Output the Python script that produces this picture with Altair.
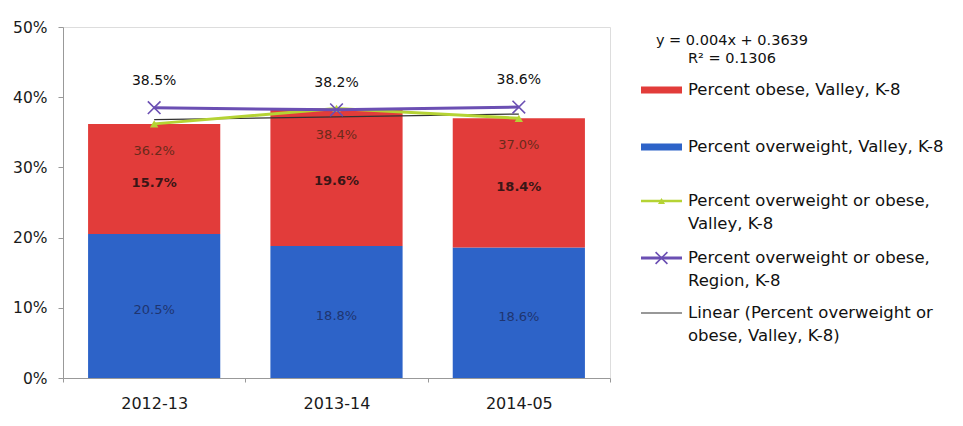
import altair as alt
import pandas as pd

years = ["2012-13", "2013-14", "2014-05"]
overweight = [20.5, 18.8, 18.6]
obese = [15.7, 19.6, 18.4]
valley_total = [36.2, 38.4, 37.0]
region_total = [38.5, 38.2, 38.6]
trend = [36.8, 37.2, 37.6]  # y = 0.004x + 0.3639

FONT = "DejaVu Sans"
RED = "#e23c3a"
BLUE = "#2d63c8"
GREEN = "#b5d334"
PURPLE = "#6b4fb3"

df = pd.DataFrame({
    "year": years,
    "ow": overweight,
    "ob": obese,
    "valley": valley_total,
    "region": region_total,
    "trend": trend,
})
df["ow_lbl"] = [f"{v:.1f}%" for v in overweight]
df["ob_lbl"] = [f"{v:.1f}%" for v in obese]
df["valley_lbl"] = [f"{v:.1f}%" for v in valley_total]
df["region_lbl"] = [f"{v:.1f}%" for v in region_total]
df["zero"] = 0.0
df["ob_top"] = df["ow"] + df["ob"]
df["ow_mid"] = df["ow"] / 2
df["ob_mid"] = df["ow"] + df["ob"] / 2

xscale = alt.Scale(paddingInner=0, paddingOuter=0)
yscale = alt.Scale(domain=[0, 50])

X = alt.X("year:N", scale=xscale, sort=years, title=None,
          axis=alt.Axis(labelAngle=0, labelFontSize=16, labelColor="#1a1a1a",
                        labelFont=FONT, labelPadding=13, tickBand="extent",
                        domainColor="#999", tickColor="#999", tickSize=4))

base = alt.Chart(df)

yaxis = alt.Axis(values=[0, 10, 20, 30, 40, 50], labelExpr="datum.value + '%'",
                 grid=False, labelFontSize=15.5, labelFont=FONT, labelColor="#1a1a1a",
                 domainColor="#999", tickColor="#999", tickSize=5, labelPadding=11)

blue_bar = base.mark_bar(color=BLUE, width=alt.RelativeBandSize(0.725)).encode(
    x=X, y=alt.Y("zero:Q", scale=yscale, axis=yaxis, title=None), y2="ow:Q")
red_bar = base.mark_bar(color=RED, width=alt.RelativeBandSize(0.725)).encode(
    x=X, y=alt.Y("ow:Q", scale=yscale), y2="ob_top:Q")

trend_line = base.mark_line(color="#333", strokeWidth=1.2).encode(
    x=X, y=alt.Y("trend:Q", scale=yscale))
valley_line = base.mark_line(color=GREEN, strokeWidth=3).encode(
    x=X, y=alt.Y("valley:Q", scale=yscale))
valley_pts = base.mark_point(shape="triangle-up", filled=True, color=GREEN,
                             size=70, opacity=1).encode(
    x=X, y=alt.Y("valley:Q", scale=yscale))
region_line = base.mark_line(color=PURPLE, strokeWidth=3).encode(
    x=X, y=alt.Y("region:Q", scale=yscale))
region_pts = base.mark_point(shape="M-1,-1L1,1M1,-1L-1,1", filled=False,
                             color=PURPLE, size=160, strokeWidth=1.6,
                             opacity=1).encode(
    x=X, y=alt.Y("region:Q", scale=yscale))

region_txt = base.mark_text(font=FONT, fontSize=14, color="#111", dy=-27).encode(
    x=X, y=alt.Y("region:Q", scale=yscale), text="region_lbl:N")
valley_txt = base.mark_text(font=FONT, fontSize=13, color="#6b2a1a", dy=27).encode(
    x=X, y=alt.Y("valley:Q", scale=yscale), text="valley_lbl:N")
ob_txt = base.mark_text(font=FONT, fontSize=13, fontWeight="bold", color="#3a1616",
                        dy=4).encode(
    x=X, y=alt.Y("ob_mid:Q", scale=yscale), text="ob_lbl:N")
ow_txt = base.mark_text(font=FONT, fontSize=13, color="#1f3570", dy=4).encode(
    x=X, y=alt.Y("ow_mid:Q", scale=yscale), text="ow_lbl:N")

# ---- custom legend (pixel positions relative to plot origin) ----
one = pd.DataFrame({"k": [0]})
lb = alt.Chart(one)
LX = 625  # legend text x (plot coords)
SX0, SX1 = 578, 619
LFS = 16.5


def txt(x, y, s, size=LFS, align="left"):
    return lb.mark_text(font=FONT, fontSize=size, color="#111", align=align,
                        baseline="middle").encode(
        x=alt.value(x), y=alt.value(y), text=alt.value(s))


def swatch(y, color):
    return lb.mark_rect(color=color).encode(
        x=alt.value(SX0), x2=alt.value(SX1), y=alt.value(y - 3.5), y2=alt.value(y + 3.5))


def lline(y, color, w):
    return lb.mark_rule(color=color, strokeWidth=w).encode(
        x=alt.value(SX0), x2=alt.value(SX1), y=alt.value(y))


legend = [
    txt(669, 14, "y = 0.004x + 0.3639", 14.5, "center"),
    txt(669, 32, "R² = 0.1306", 14.5, "center"),
    swatch(63, RED), txt(LX, 63, "Percent obese, Valley, K-8"),
    swatch(120, BLUE), txt(LX, 120, "Percent overweight, Valley, K-8"),
    lline(174, GREEN, 2.5),
    lb.mark_point(shape="triangle-up", filled=True, color=GREEN, size=50,
                  opacity=1).encode(x=alt.value((SX0 + SX1) / 2), y=alt.value(174)),
    txt(LX, 174, "Percent overweight or obese,"), txt(LX, 197, "Valley, K-8"),
    lline(231, PURPLE, 3),
    lb.mark_point(shape="M-1,-1L1,1M1,-1L-1,1", filled=False, color=PURPLE,
                  size=140, strokeWidth=1.6, opacity=1).encode(
        x=alt.value((SX0 + SX1) / 2), y=alt.value(231)),
    txt(LX, 231, "Percent overweight or obese,"), txt(LX, 254, "Region, K-8"),
    lline(286, "#333", 1.2),
    txt(LX, 286, "Linear (Percent overweight or"), txt(LX, 309, "obese, Valley, K-8)"),
]

chart = alt.layer(
    blue_bar, red_bar, trend_line, valley_line, valley_pts, region_line,
    region_pts, region_txt, valley_txt, ob_txt, ow_txt, *legend
).properties(
    width=547, height=351,
    padding={"left": 55, "top": 19, "right": 338, "bottom": 34},
    autosize=alt.AutoSizeParams(type="none"),
).configure_view(stroke=None).configure(background="white")

chart.save("out.html", embed_options={"renderer": "svg", "actions": False})
